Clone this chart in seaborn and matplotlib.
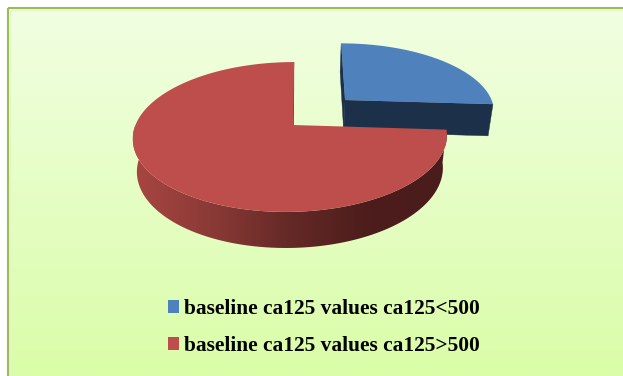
import numpy as np
import matplotlib
matplotlib.use("Agg")
import matplotlib.pyplot as plt
from matplotlib.patches import Patch, Polygon, Rectangle
import seaborn as sns

# Share of patients in each baseline CA125 group
labels = ["baseline ca125 values ca125<500", "baseline ca125 values ca125>500"]
shares = [26, 74]
top_colors = ["#4F81BD", "#BE4E4B"]
blue_wall = "#1C3149"
red_wall_stops = ["#A84641", "#8A3A36", "#642926", "#4C1D1B", "#4A1C1B"]
panel_stops = ["#F1FFE2", "#DAFDA8"]

sns.set_theme(style="white")
plt.rcParams["font.family"] = ["Liberation Serif", "DejaVu Serif"]

# Perspective camera for the disc: u runs right, v runs away, z runs down
ORIGIN = (290.5, 125.0)
SCALE_U, SCALE_V, DEPTH = 155.0, 73.0, 33.5
SKEW, PERSP_V, PERSP_Z = 4.0, 0.16, 0.026
BLUE_OFFSET = (0.363, 0.362)
RED_APEX_U = 0.016


def project(u, v, z=0.0):
    w = 1 + PERSP_V * v + PERSP_Z * z
    return (ORIGIN[0] + (SCALE_U * u + SKEW * v) / w,
            ORIGIN[1] + (-SCALE_V * v + DEPTH * z) / w)


def flat_face(ax, u, v, color, zorder):
    u, v = np.asarray(u), np.asarray(v)
    x0, y0 = project(u, v, 0)
    x1, y1 = project(u, v, 1)
    ax.fill(np.r_[x0, x1[::-1]], np.r_[y0, y1[::-1]], color=color, lw=0.3, zorder=zorder)


fig = plt.figure(figsize=(6.23, 3.76), dpi=100, facecolor="white")
ax = fig.add_axes([0, 0, 1, 1])
ax.axis("off")

# Panel background with a vertical gradient and a double green rule
ramp = np.array(sns.blend_palette(panel_stops, 256))[:, None, :]
ax.imshow(ramp, extent=(8, 623, 376, 8), aspect="auto", zorder=0, interpolation="bilinear")
ax.add_patch(Rectangle((10, 10), 640, 400, fill=False, ec="#E4F4C4", lw=0.9, zorder=1))
ax.add_patch(Rectangle((8.3, 8.3), 640, 400, fill=False, ec="#9BBB59", lw=1.5, zorder=1))

total = sum(shares)
blue_sweep = 360 * shares[0] / total
red_sweep = 360 * shares[1] / total

# Pulled-out slice: cut faces first, then its top surface
b_theta = np.radians(blue_sweep)
off_u, off_v = BLUE_OFFSET
flat_face(ax, [off_u, off_u], [off_v, off_v + 1], blue_wall, 2)
flat_face(ax, [off_u, off_u + np.sin(b_theta)], [off_v, off_v + np.cos(b_theta)], blue_wall, 2)
theta = np.radians(np.linspace(0, blue_sweep, 120))
x, y = project(np.r_[off_u, off_u + np.sin(theta)], np.r_[off_v, off_v + np.cos(theta)])
ax.fill(x, y, color=top_colors[0], lw=0, zorder=3)

# Large slice: rim shaded left to right, clipped to its outline, then the top surface
flat_face(ax, [RED_APEX_U, 0], [0, 1], "#6E2C2A", 4)
rim = np.radians(np.linspace(blue_sweep, 270, 300))
x0, y0 = project(np.sin(rim), np.cos(rim), 0)
x1, y1 = project(np.sin(rim), np.cos(rim), 1)
outline = Polygon(np.c_[np.r_[x0, x1[::-1]], np.r_[y0, y1[::-1]]], closed=True,
                  transform=ax.transData, fc="none", ec="none")
ax.add_patch(outline)
rim_ramp = np.array(sns.blend_palette(red_wall_stops, 256))[None, :, :]
shade = ax.imshow(rim_ramp, extent=(x0.min(), x0.max(), y1.max(), y0.min()),
                  aspect="auto", zorder=5, interpolation="bilinear")
shade.set_clip_path(outline)
theta = np.radians(np.linspace(blue_sweep, blue_sweep + red_sweep, 360))
x, y = project(np.r_[RED_APEX_U, np.sin(theta)], np.r_[0, np.cos(theta)])
ax.fill(x, y, color=top_colors[1], lw=0, zorder=6)

ax.set_xlim(0, 623)
ax.set_ylim(376, 0)

# Legend below the disc
handles = [Patch(facecolor=c, edgecolor="none", label=t) for c, t in zip(top_colors, labels)]
ax.legend(handles=handles, loc="lower left", bbox_to_anchor=(168 / 623, 1 - 356 / 376),
          frameon=False, borderpad=0, borderaxespad=0,
          prop={"family": "Liberation Serif", "weight": "bold", "size": 15.4},
          handlelength=0.52, handleheight=0.52, handletextpad=0.22,
          labelspacing=0.78, labelcolor="black")

fig.savefig("out.png", dpi=100, facecolor="white")
